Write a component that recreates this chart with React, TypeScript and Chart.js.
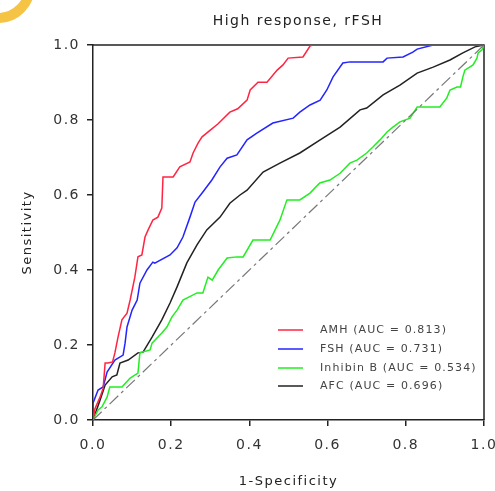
import React, { useEffect, useRef } from "react";
import { Chart, registerables } from "chart.js";

Chart.register(...registerables);

const chartTitle = "High response, rFSH";
const xAxisTitle = "1-Specificity";
const yAxisTitle = "Sensitivity";
const tickValues = [0, 0.2, 0.4, 0.6, 0.8, 1.0];
const seriesLabels = [
  "AMH (AUC = 0.813)",
  "FSH (AUC = 0.731)",
  "Inhibin B (AUC = 0.534)",
  "AFC (AUC = 0.696)",
];
const seriesColors = ["#ff2442", "#2424ff", "#22ee22", "#222222"];

// AMH
const amhX = [0, 0.005, 0.018, 0.026, 0.031, 0.038, 0.05, 0.056, 0.064, 0.074, 0.087, 0.095, 0.107, 0.115, 0.125, 0.133, 0.141, 0.153, 0.166, 0.176, 0.179, 0.205, 0.222, 0.248, 0.256, 0.269, 0.279, 0.3, 0.32, 0.35, 0.37, 0.394, 0.402, 0.422, 0.445, 0.471, 0.486, 0.499, 0.537, 0.555, 0.56, 1.0];
const amhY = [0, 0.03, 0.061, 0.085, 0.152, 0.152, 0.155, 0.179, 0.221, 0.267, 0.285, 0.32, 0.381, 0.435, 0.44, 0.488, 0.507, 0.533, 0.541, 0.565, 0.648, 0.648, 0.675, 0.688, 0.712, 0.739, 0.755, 0.773, 0.79, 0.821, 0.83, 0.853, 0.88, 0.901, 0.901, 0.933, 0.947, 0.965, 0.968, 0.997, 1.0, 1.0];

// FSH
const fshX = [0, 0, 0.013, 0.026, 0.036, 0.056, 0.077, 0.082, 0.087, 0.1, 0.113, 0.12, 0.138, 0.153, 0.158, 0.197, 0.215, 0.23, 0.248, 0.261, 0.281, 0.304, 0.325, 0.343, 0.368, 0.394, 0.419, 0.46, 0.512, 0.529, 0.555, 0.581, 0.598, 0.614, 0.639, 0.657, 0.742, 0.752, 0.793, 0.818, 0.829, 0.87, 1.0];
const fshY = [0, 0.045, 0.08, 0.088, 0.128, 0.16, 0.173, 0.205, 0.248, 0.293, 0.32, 0.365, 0.4, 0.421, 0.418, 0.44, 0.459, 0.488, 0.541, 0.581, 0.608, 0.64, 0.675, 0.698, 0.707, 0.747, 0.765, 0.792, 0.805, 0.821, 0.84, 0.853, 0.88, 0.915, 0.952, 0.955, 0.955, 0.965, 0.968, 0.981, 0.989, 1.0, 1.0];

// Inhibin B
const inhX = [0, 0.013, 0.023, 0.036, 0.043, 0.074, 0.095, 0.115, 0.12, 0.146, 0.151, 0.176, 0.189, 0.202, 0.215, 0.23, 0.266, 0.281, 0.294, 0.305, 0.32, 0.343, 0.368, 0.384, 0.409, 0.453, 0.478, 0.496, 0.529, 0.555, 0.58, 0.606, 0.632, 0.657, 0.675, 0.7, 0.716, 0.734, 0.752, 0.767, 0.785, 0.811, 0.829, 0.887, 0.905, 0.913, 0.931, 0.94, 0.946, 0.951, 0.972, 0.982, 0.985, 0.995, 1.0];
const inhY = [0, 0.027, 0.035, 0.061, 0.088, 0.088, 0.112, 0.125, 0.179, 0.187, 0.205, 0.232, 0.248, 0.275, 0.293, 0.32, 0.339, 0.339, 0.381, 0.373, 0.4, 0.432, 0.435, 0.435, 0.48, 0.48, 0.533, 0.587, 0.587, 0.605, 0.632, 0.64, 0.658, 0.685, 0.693, 0.712, 0.728, 0.747, 0.768, 0.781, 0.795, 0.805, 0.835, 0.835, 0.859, 0.88, 0.888, 0.888, 0.915, 0.933, 0.947, 0.965, 0.979, 0.987, 1.0];

// AFC
const afcX = [0, 0.018, 0.031, 0.049, 0.061, 0.069, 0.09, 0.115, 0.128, 0.151, 0.176, 0.197, 0.215, 0.24, 0.266, 0.291, 0.325, 0.35, 0.376, 0.394, 0.435, 0.478, 0.529, 0.581, 0.632, 0.683, 0.7, 0.742, 0.785, 0.829, 0.87, 0.913, 0.946, 0.977, 1.0];
const afcY = [0, 0.053, 0.093, 0.115, 0.12, 0.152, 0.16, 0.179, 0.181, 0.221, 0.267, 0.312, 0.355, 0.419, 0.467, 0.507, 0.541, 0.578, 0.6, 0.613, 0.661, 0.685, 0.712, 0.747, 0.781, 0.827, 0.832, 0.867, 0.893, 0.925, 0.941, 0.96, 0.979, 0.995, 1.0];

// Reference diagonal
const refX = [0, 1];
const refY = [0, 1];

const FONT = "'DejaVu Sans', 'Liberation Sans', sans-serif";

const zip = (xs: number[], ys: number[]) => xs.map((x, i) => ({ x, y: ys[i] }));

const spacingPlugin = {
  id: "spacing",
  beforeUpdate(chart: any) {
    chart.ctx.letterSpacing = "1.5px";
  },
  beforeDraw(chart: any) {
    chart.ctx.letterSpacing = "1.5px";
  },
};

const framePlugin = {
  id: "frame",
  beforeDatasetsDraw(chart: any) {
    const { ctx, chartArea: a } = chart;
    ctx.save();
    ctx.strokeStyle = "#222";
    ctx.lineWidth = 1.5;
    ctx.beginPath();
    ctx.moveTo(a.left, a.top);
    ctx.lineTo(a.right, a.top);
    ctx.lineTo(a.right, a.bottom);
    ctx.stroke();
    ctx.restore();
  },
};

const textPlugin = {
  id: "texts",
  afterDraw(chart: any) {
    const { ctx } = chart;
    ctx.save();
    ctx.letterSpacing = "1.5px";
    ctx.fillStyle = "#222";
    ctx.font = `14px ${FONT}`;
    ctx.textAlign = "center";
    ctx.textBaseline = "middle";
    ctx.fillText(chartTitle, 298, 21);

    const rows = [330, 349, 368, 386];
    ctx.letterSpacing = "1.1px";
    ctx.font = `11px ${FONT}`;
    ctx.textAlign = "left";
    seriesLabels.forEach((label, i) => {
      ctx.strokeStyle = seriesColors[i];
      ctx.lineWidth = 1.5;
      ctx.beginPath();
      ctx.moveTo(278, rows[i]);
      ctx.lineTo(303, rows[i]);
      ctx.stroke();
      ctx.fillStyle = "#444";
      ctx.fillText(label, 320, rows[i]);
    });
    ctx.restore();
  },
};

export default function App() {
  const ref = useRef<HTMLCanvasElement | null>(null);

  useEffect(() => {
    if (!ref.current) return;
    const mk = (i: number, xs: number[], ys: number[]) => ({
      label: seriesLabels[i],
      data: zip(xs, ys),
      borderColor: seriesColors[i],
      backgroundColor: seriesColors[i],
      borderWidth: 1.5,
      showLine: true,
      pointRadius: 0,
      tension: 0,
      fill: false,
    });
    const chart = new Chart(ref.current, {
      type: "scatter",
      data: {
        datasets: [
          {
            label: "reference",
            data: zip(refX, refY),
            borderColor: "#777777",
            backgroundColor: "#777777",
            borderWidth: 1.2,
            borderDash: [12, 4, 3, 4],
            showLine: true,
            pointRadius: 0,
            fill: false,
          },
          mk(0, amhX, amhY),
          mk(1, fshX, fshY),
          mk(2, inhX, inhY),
          mk(3, afcX, afcY),
        ],
      },
      options: {
        animation: false,
        responsive: false,
        maintainAspectRatio: false,
        events: [],
        layout: { padding: { top: 45, right: 11, left: 16, bottom: 0 } },
        plugins: {
          legend: { display: false },
          title: { display: false },
          tooltip: { enabled: false },
        },
        font: { family: FONT },
        scales: {
          x: {
            type: "linear",
            min: 0,
            max: 1,
            afterFit: (s: any) => {
              s.height = 71;
              s.paddingLeft = 0;
              s.paddingRight = 0;
            },
            afterBuildTicks: (s: any) => {
              s.ticks = tickValues.map((v) => ({ value: v }));
            },
            ticks: {
              callback: (v: any) => Number(v).toFixed(1),
              font: { family: FONT, size: 14 },
              color: "#333",
              padding: 11,
              maxRotation: 0,
              autoSkip: false,
            },
            grid: {
              display: true,
              drawOnChartArea: false,
              drawTicks: true,
              tickLength: 6,
              color: "#222",
              lineWidth: 1.5,
            },
            border: { display: true, color: "#222", width: 1.5 },
            title: {
              display: true,
              text: xAxisTitle,
              font: { family: FONT, size: 13 },
              color: "#222",
              padding: { top: 4, bottom: 2 },
            },
          },
          y: {
            type: "linear",
            min: 0,
            max: 1,
            afterFit: (s: any) => {
              s.width = 77;
              s.paddingTop = 0;
              s.paddingBottom = 0;
            },
            afterBuildTicks: (s: any) => {
              s.ticks = tickValues.map((v) => ({ value: v }));
            },
            ticks: {
              callback: (v: any) => Number(v).toFixed(1),
              font: { family: FONT, size: 14 },
              color: "#333",
              padding: 7,
              autoSkip: false,
            },
            grid: {
              display: true,
              drawOnChartArea: false,
              drawTicks: true,
              tickLength: 6,
              color: "#222",
              lineWidth: 1.5,
            },
            border: { display: true, color: "#222", width: 1.5 },
            title: {
              display: true,
              text: yAxisTitle,
              font: { family: FONT, size: 13 },
              color: "#222",
              padding: { top: 4, bottom: 4 },
            },
          },
        },
      } as any,
      plugins: [spacingPlugin, framePlugin, textPlugin],
    });
    return () => chart.destroy();
  }, []);

  return (
    <div style={{ position: "absolute", left: 0, top: 0, width: 495, height: 491, overflow: "hidden", background: "#fff" }}>
      <canvas ref={ref} width={495} height={491} style={{ display: "block", width: 495, height: 491 }} />
      <div
        style={{
          position: "absolute",
          left: -39,
          top: -51,
          width: 74,
          height: 74,
          boxSizing: "border-box",
          border: "10px solid #f6c445",
          borderRadius: "50%",
        }}
      />
    </div>
  );
}
